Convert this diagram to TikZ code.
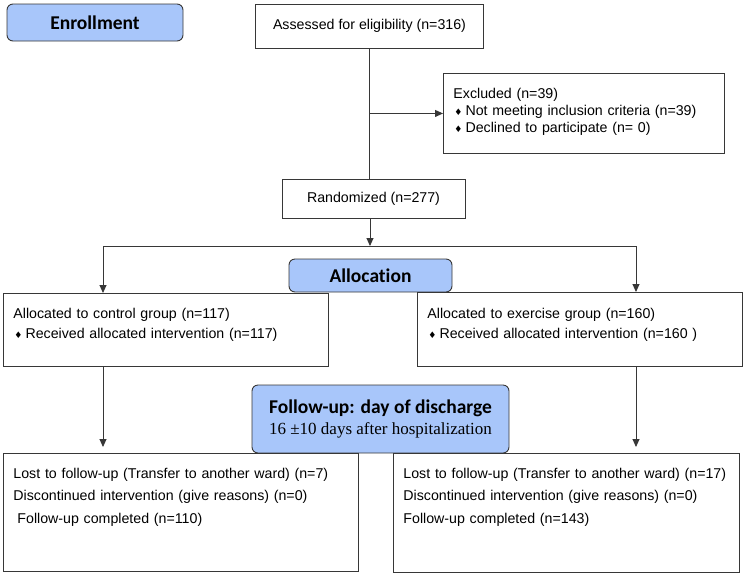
\documentclass[tikz,border=0pt]{standalone}
\usepackage{fontspec}
\setmainfont{Liberation Sans}
\newfontfamily\calfont{Carlito}[Ligatures=NoCommon]
\newfontfamily\timesfont{Liberation Serif}
\newfontfamily\symfont{DejaVu Sans}
\usetikzlibrary{arrows.meta}
\definecolor{phaseblue}{RGB}{168,198,250}
\definecolor{linegray}{RGB}{55,55,55}
\newcommand{\bul}{\hspace{1pt}{\symfont\fontsize{9}{9}\selectfont ♦}\hspace{3pt}}

\begin{document}
\begin{tikzpicture}[x=1pt, y=-1pt,
  >={Triangle[length=8pt,width=7pt]},
  phase/.style={draw=linegray, line width=0.9pt, fill=phaseblue, rounded corners=6pt,
    font=\calfont\bfseries\fontsize{19.5}{21}\selectfont, inner sep=0pt},
  box/.style={draw=linegray, line width=0.9pt, font=\fontsize{14.2}{17}\selectfont, inner sep=0pt},
  listbox/.style={box, anchor=north west, align=left, inner xsep=10pt, inner ysep=0pt},
  conn/.style={draw=linegray, line width=0.9pt}]
  \useasboundingbox (0,0) rectangle (744,574);

  % enrollment
  \node[phase, minimum width=176, minimum height=37] (enrol) at (95,22.5) {Enrollment};
  \node[box, minimum width=228, minimum height=44] (assess) at (369.5,26) {Assessed for eligibility (n=316)};
  \node[listbox, text width=261, text height=25, text depth=55] (excl) at (443,73)
    {Excluded (n=39)\\ \bul Not meeting inclusion criteria (n=39)\\ \bul Declined to participate (n= 0)};
  \node[box, minimum width=183, minimum height=39] (rand) at (373.5,198.5) {Randomized (n=277)};

  % allocation
  \node[phase, minimum width=163, minimum height=33] (alloc) at (370.5,275.5) {Allocation};
  \node[listbox, text width=305, text height=25, text depth=48] (ctrl) at (3,293)
    {Allocated to control group (n=117)\\[3pt] \bul Received allocated intervention (n=117)};
  \node[listbox, text width=305, text height=26, text depth=48] (exer) at (417,292)
    {Allocated to exercise group (n=160)\\[3pt] \bul Received allocated intervention (n=160 )};

  % follow-up
  \node[phase, minimum width=257, minimum height=68, align=center] (fup) at (380.5,419)
    {Follow-up: day of discharge\\{\timesfont\mdseries\fontsize{17}{21}\selectfont 16 ±10 days after hospitalization}};
  \node[listbox, text width=335, text height=25, text depth=93] (lctrl) at (3,453)
    {Lost to follow-up (Transfer to another ward) (n=7)\\[5.5pt]
     Discontinued intervention (give reasons) (n=0)\\[5.5pt]
     \hspace{4pt}Follow-up completed (n=110)};
  \node[listbox, text width=326, text height=25, text depth=94] (lexer) at (393,453)
    {Lost to follow-up (Transfer to another ward) (n=17)\\[5.5pt]
     Discontinued intervention (give reasons) (n=0)\\[5.5pt]
     Follow-up completed (n=143)};

  % connectors
  \coordinate (split) at (370,246);
  \coordinate (lsplit) at (103,246);
  \coordinate (rsplit) at (636,246);
  \draw[conn] (assess.south) -- (assess.south |- rand.north);
  \draw[conn,->] (assess.south |- excl.west) -- (excl.west);
  \draw[conn,->] (rand.south -| split) -- (split);
  \draw[conn] (lsplit) -- (rsplit);
  \draw[conn,->] (lsplit) -- (lsplit |- ctrl.north);
  \draw[conn,->] (rsplit) -- (rsplit |- exer.north);
  \draw[conn,->,shorten >=6pt] (lsplit |- ctrl.south) -- (lsplit |- lctrl.north);
  \draw[conn,->,shorten >=6pt] (rsplit |- exer.south) -- (rsplit |- lexer.north);
\end{tikzpicture}
\end{document}
